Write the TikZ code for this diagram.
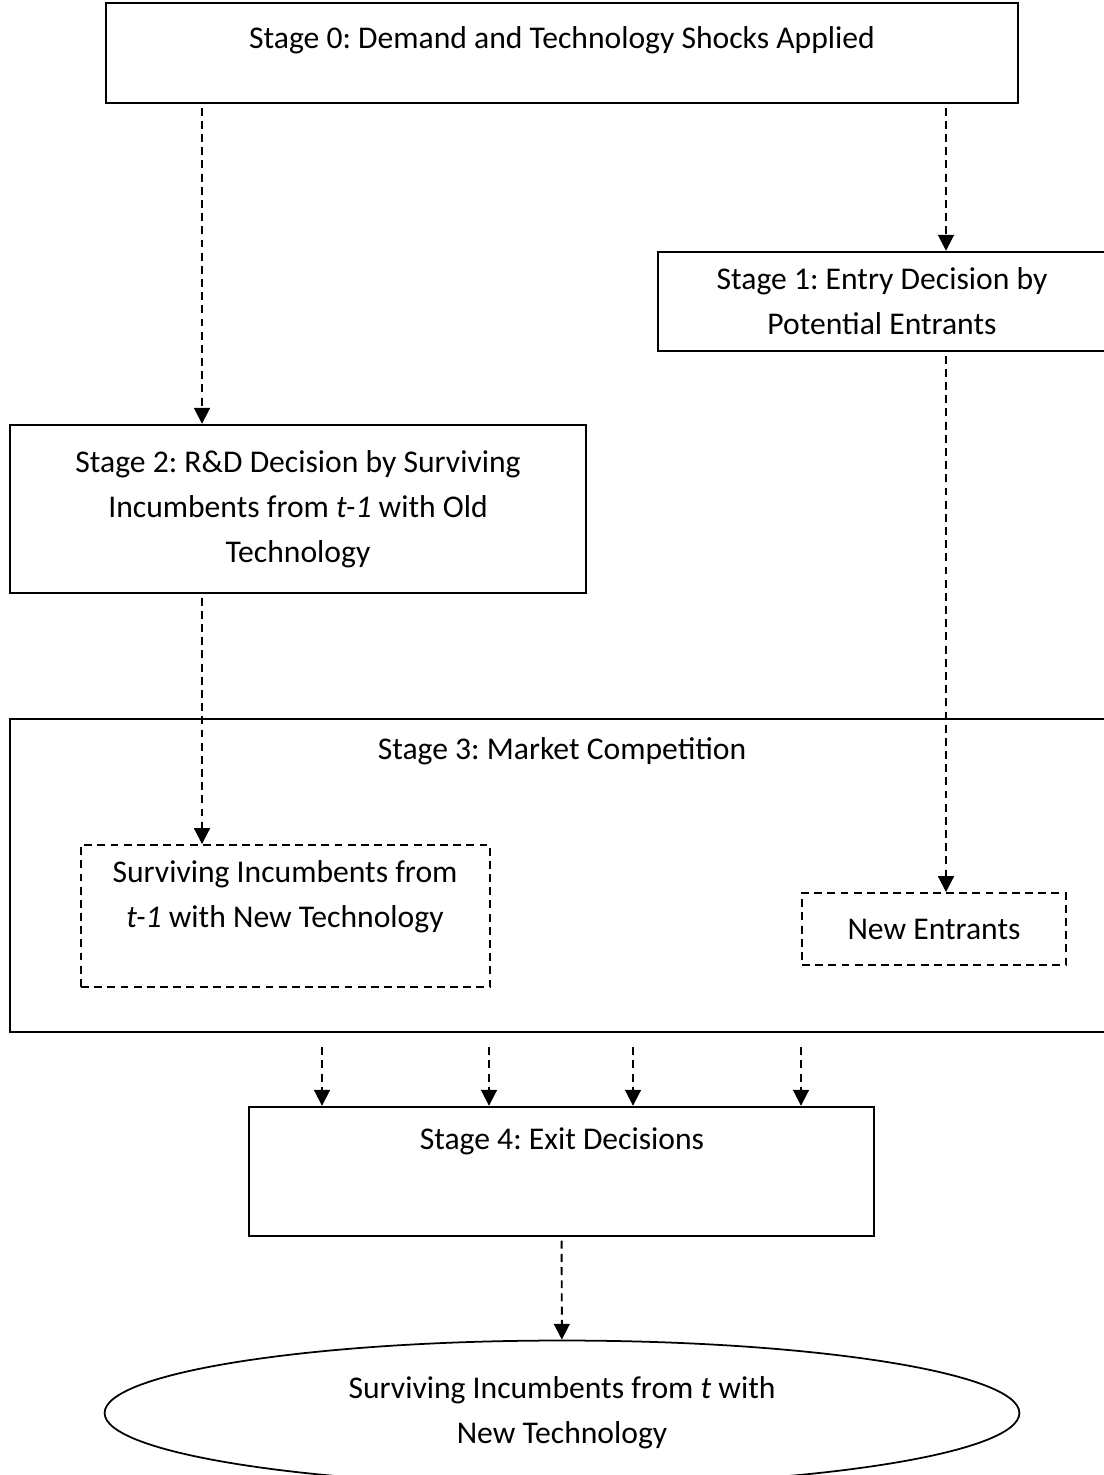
\documentclass[tikz,border=0pt]{standalone}
\usepackage{fontspec}
\setmainfont{Carlito}
\frenchspacing
\usetikzlibrary{arrows.meta,positioning,shapes.geometric}

\begin{document}
\begin{tikzpicture}[x=0.02cm,y=-0.02cm,
  font=\fontsize{18pt}{25.5pt}\selectfont,
  stagebox/.style={draw,line width=1.4pt,inner sep=0pt},
  subbox/.style={draw,line width=1.1pt,dash pattern=on 4.5pt off 3pt,inner sep=0pt},
  flow/.style={-{Triangle[width=9pt,length=9pt]},line width=1.1pt,dash pattern=on 4.5pt off 3pt,shorten <=2pt}]
\useasboundingbox (0,0) rectangle (1104,1475);
% stages
\node[stagebox,minimum width=18.24cm,minimum height=2cm] (s0) at (562,53) {};
\node (t0) at (562,40) {Stage 0: Demand and Technology Shocks Applied};
\node[stagebox,minimum width=8.96cm,minimum height=1.98cm,align=center] (s1) at (882,301.5) {Stage 1: Entry Decision by\\Potential Entrants};
\node[stagebox,minimum width=11.52cm,minimum height=3.36cm,align=center] (s2) at (298,509) {Stage 2: R\&D Decision by Surviving\\Incumbents from \textit{t-1} with Old\\Technology};
\node[stagebox,minimum width=21.92cm,minimum height=6.26cm] (s3) at (558,875.5) {};
\node (t3) at (562,751) {Stage 3: Market Competition};
\node[subbox,minimum width=8.18cm,minimum height=2.84cm] (inc) at (285.5,916) {};
\node[align=center] (tinc) at (285,896.5) {Surviving Incumbents from\\\textit{t-1} with New Technology};
\node[subbox,minimum width=5.28cm,minimum height=1.44cm] (ne) at (934,929) {New Entrants};
\node[stagebox,minimum width=12.5cm,minimum height=2.58cm] (s4) at (561.5,1171.5) {};
\node (t4) at (562,1141) {Stage 4: Exit Decisions};
\node[draw,ellipse,line width=1pt,inner sep=0pt,minimum width=18.3cm,minimum height=2.9cm,align=center] (out) at (562,1413) {Surviving Incumbents from \textit{t} with\\New Technology};
% connectors
\coordinate (cL) at (202,0);
\coordinate (cR) at (946,0);
\draw[flow] (s0.south -| cL) -- (s2.north -| cL);
\draw[flow] (s0.south -| cR) -- (s1.north -| cR);
\draw[flow] (s1.south -| cR) -- (ne.north -| cR);
\draw[flow] (s2.south -| cL) -- (inc.north -| cL);
\foreach \x in {322,489,633,801} {
  \coordinate (c) at (\x,0);
  \draw[flow,shorten <=8pt] (s3.south -| c) -- (s4.north -| c);
}
\draw[flow] (s4) -- (out);
\end{tikzpicture}
\end{document}
